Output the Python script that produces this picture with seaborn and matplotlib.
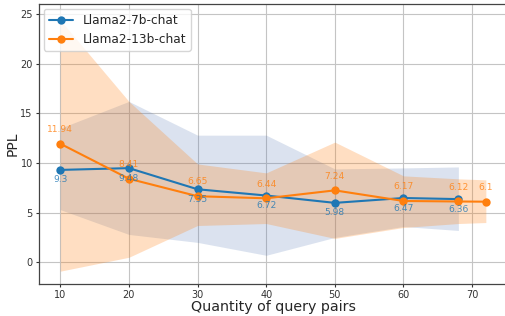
import matplotlib
matplotlib.use("Agg")
import matplotlib.pyplot as plt
import seaborn as sns
import pandas as pd

# Data
x_7b = [10, 20, 30, 40, 50, 60, 68]
ppl_7b = [9.3, 9.48, 7.35, 6.72, 5.98, 6.47, 6.36]
upper_7b = [13.5, 16.2, 12.8, 12.8, 9.4, 9.5, 9.6]
lower_7b = [5.3, 2.8, 2.0, 0.7, 2.5, 3.6, 3.2]

x_13b = [10, 20, 30, 40, 50, 60, 68, 72]
ppl_13b = [11.94, 8.41, 6.65, 6.44, 7.24, 6.17, 6.12, 6.1]
upper_13b = [24.4, 16.2, 9.9, 9.0, 12.1, 8.7, 8.4, 8.3]
lower_13b = [-0.9, 0.5, 3.7, 3.9, 2.4, 3.5, 3.9, 4.0]

labels = ["Llama2-7b-chat", "Llama2-13b-chat"]
xlabel = "Quantity of query pairs"
ylabel = "PPL"

sns.set_style("ticks")
plt.rcParams['font.family'] = ['DejaVu Sans']

fig = plt.figure(figsize=(5.05, 3.16), dpi=100)
ax = fig.add_axes([0.0772, 0.101, 0.927, 0.886])

c_blue = "#1f77b4"
c_orange = "#ff7f0e"

ax.fill_between(x_7b, lower_7b, upper_7b, color="#4C72B0", alpha=0.2, linewidth=0)
ax.fill_between(x_13b, lower_13b, upper_13b, color=c_orange, alpha=0.25, linewidth=0)

df7 = pd.DataFrame({"x": x_7b, "y": ppl_7b})
df13 = pd.DataFrame({"x": x_13b, "y": ppl_13b})
sns.lineplot(data=df7, x="x", y="y", ax=ax, color=c_blue, marker="o",
             markersize=6, markeredgewidth=0, linewidth=1.5, label=labels[0])
sns.lineplot(data=df13, x="x", y="y", ax=ax, color=c_orange, marker="o",
             markersize=6, markeredgewidth=0, linewidth=1.5, label=labels[1])

for xv, yv in zip(x_7b, ppl_7b):
    ax.annotate(f"{yv:g}", (xv, yv), xytext=(0, -4), textcoords="offset points",
                ha="center", va="top", fontsize=6.6, color=c_blue, alpha=0.8)
for xv, yv in zip(x_13b, ppl_13b):
    ax.annotate(f"{yv:g}", (xv, yv), xytext=(0, 7), textcoords="offset points",
                ha="center", va="bottom", fontsize=6.6, color=c_orange, alpha=0.8)

ax.grid(True, color="#c4c4c4", linewidth=0.8)
ax.set_axisbelow(True)
ax.set_xlim(6.9, 75.1)
ax.set_ylim(-2.2, 26.0)
ax.set_xticks([10, 20, 30, 40, 50, 60, 70])
ax.set_yticks([0, 5, 10, 15, 20, 25])
ax.tick_params(labelsize=7, length=2.5, width=0.8, pad=2, colors="#333333")
for s in ax.spines.values():
    s.set_color("#444444")
    s.set_linewidth(0.9)
ax.set_xlabel(xlabel, fontsize=10.3, labelpad=0)
ax.set_ylabel(ylabel, fontsize=10, labelpad=0.5)

leg = ax.legend(loc="upper left", fontsize=8.7, frameon=True, fancybox=True,
                borderaxespad=0.4, handlelength=2.0)
leg.get_frame().set_edgecolor("#cccccc")

fig.savefig("out.png", dpi=100)
